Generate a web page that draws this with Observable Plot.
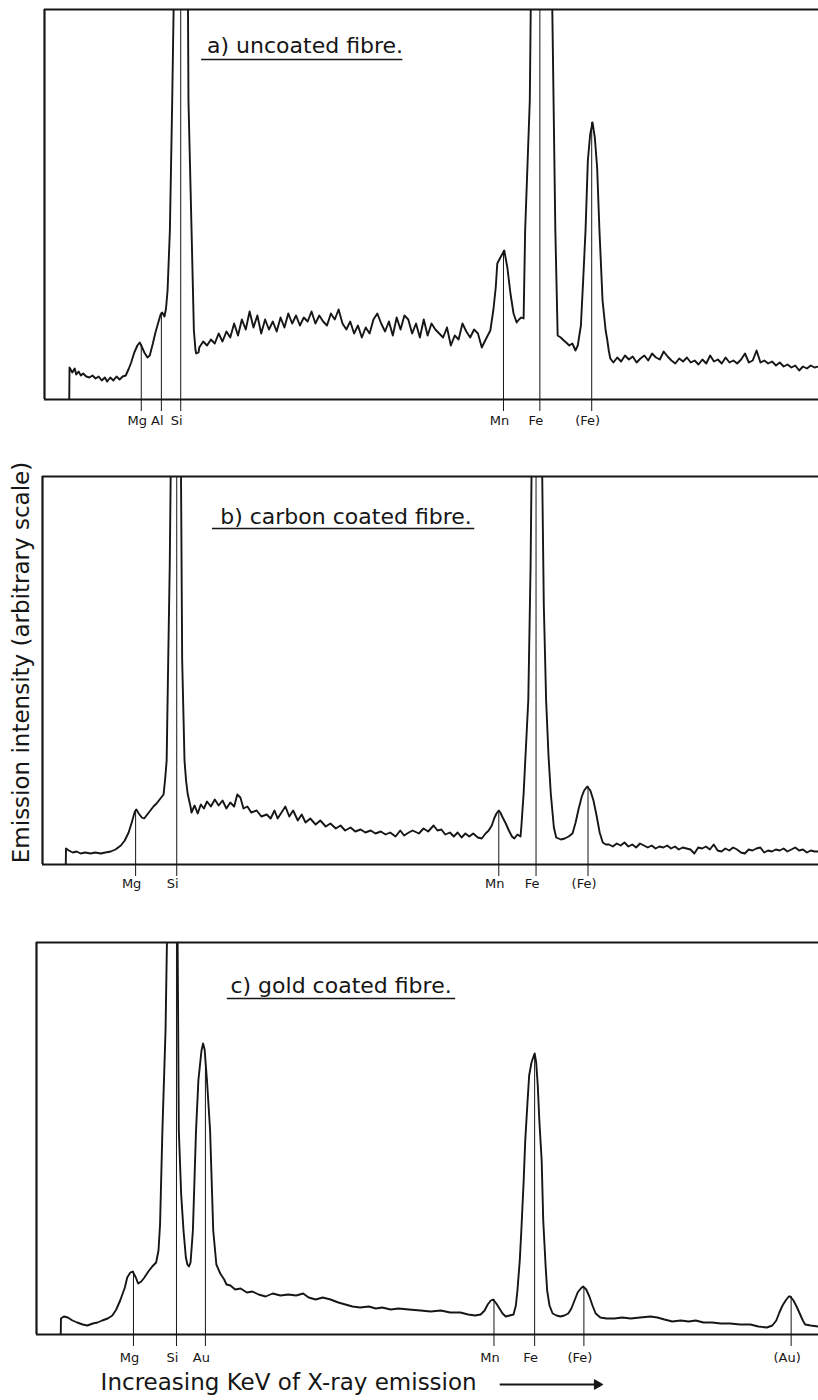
<!DOCTYPE html>
<html>
<head>
<meta charset="utf-8">
<script src="https://cdn.jsdelivr.net/npm/d3@7"></script>
<script src="https://cdn.jsdelivr.net/npm/@observablehq/plot@0.6"></script>
<style>
  html, body { margin: 0; padding: 0; background: #ffffff; }
  #wrap { position: relative; width: 818px; height: 1400px; overflow: hidden; background: #fff; }
  #wrap > div { position: absolute; left: 0; }
  svg { overflow: visible; }
</style>
</head>
<body>
<div id="wrap">
  <div id="pa" style="top:0px"></div>
  <div id="pb" style="top:450px"></div>
  <div id="pc" style="top:910px"></div>
</div>
<script>
// ---------- DATA (energy in keV, intensity in arbitrary units) ----------
// a) uncoated fibre
const spectrumA = [
  [0.32,0],[0.323,32],[0.36,27],[0.39,31],[0.41,25],[0.44,28],[0.47,24],[0.50,26],[0.54,23],[0.58,22],
  [0.62,24],[0.66,21],[0.70,23],[0.74,19],[0.78,22],[0.81,18],[0.85,22],[0.89,19],[0.93,23],[0.97,20],
  [1.01,23],[1.05,24],[1.09,31],[1.12,37],[1.16,47],[1.20,54],[1.23,57],[1.25,54],[1.29,47],[1.33,42],
  [1.36,44],[1.40,56],[1.43,66],[1.47,77],[1.50,85],[1.52,87],[1.55,83],[1.57,91],[1.59,109],[1.62,169],
  [1.65,299],[1.68,450],[1.85,450],[1.86,299],[1.90,169],[1.93,69],[1.95,50],[1.96,46],[1.99,47],
  [2.00,52],[2.05,58],[2.10,54],[2.15,60],[2.20,56],[2.25,66],[2.30,58],[2.35,68],[2.40,62],[2.45,76],
  [2.50,64],[2.55,80],[2.60,70],[2.65,88],[2.70,72],[2.75,84],[2.80,66],[2.85,80],[2.90,70],[2.95,78],
  [3.00,68],[3.05,82],[3.10,72],[3.15,86],[3.20,76],[3.25,84],[3.30,74],[3.35,82],[3.40,78],[3.45,88],
  [3.50,76],[3.55,84],[3.60,78],[3.65,74],[3.70,86],[3.75,80],[3.80,90],[3.85,76],[3.90,70],[3.95,78],
  [4.00,66],[4.05,74],[4.10,62],[4.15,72],[4.20,66],[4.25,80],[4.30,86],[4.35,76],[4.40,68],[4.45,78],
  [4.50,64],[4.55,82],[4.60,70],[4.65,84],[4.70,80],[4.75,66],[4.80,76],[4.85,62],[4.90,80],[4.95,64],
  [5.00,76],[5.05,70],[5.10,66],[5.15,62],[5.20,72],[5.25,54],[5.30,64],[5.35,60],[5.40,76],[5.45,68],
  [5.50,62],[5.55,70],[5.60,66],[5.65,52],[5.70,60],[5.76,69],[5.80,90],[5.83,112],[5.85,136],[5.89,142],
  [5.94,149],[5.98,132],[6.02,106],[6.06,86],[6.10,77],[6.13,80],[6.16,82],[6.19,81],[6.21,169],[6.27,299],
  [6.29,450],[6.55,450],[6.60,169],[6.63,64],[6.67,62],[6.71,59],[6.74,57],[6.78,54],[6.82,56],[6.86,49],
  [6.89,54],[6.93,74],[6.96,120],[6.99,169],[7.02,239],[7.05,265],[7.08,277],[7.11,262],[7.14,232],[7.17,169],
  [7.21,99],[7.25,69],[7.27,60],[7.29,49],[7.31,41],[7.35,37],[7.40,42],[7.45,38],[7.50,44],[7.55,40],
  [7.60,43],[7.65,37],[7.70,41],[7.75,44],[7.80,39],[7.85,46],[7.90,42],[7.95,40],[8.00,48],[8.05,43],
  [8.10,39],[8.15,36],[8.20,41],[8.25,38],[8.30,42],[8.35,37],[8.40,39],[8.45,35],[8.50,40],[8.55,36],
  [8.60,44],[8.65,38],[8.70,40],[8.75,36],[8.80,42],[8.85,37],[8.90,39],[8.95,36],[9.00,40],[9.05,46],
  [9.10,37],[9.15,39],[9.20,49],[9.25,37],[9.30,39],[9.35,36],[9.40,38],[9.45,34],[9.50,37],[9.55,33],
  [9.60,35],[9.65,32],[9.70,34],[9.75,29],[9.80,33],[9.85,31],[9.90,34],[9.95,32],[10.00,33]
];
const elementsA = ["Mg", "Al", "Si", "Mn", "Fe", "(Fe)"];
const energiesA = [1.25, 1.51, 1.76, 5.93, 6.40, 7.07];
const peakTopsA = [55, 87, 390, 149, 390, 277];

// b) carbon coated fibre
const spectrumB = [
  [0.30,0],[0.303,16],[0.34,14],[0.39,12],[0.44,13],[0.49,11],[0.55,12],[0.62,11],[0.68,12],[0.75,11],
  [0.81,12],[0.88,13],[0.94,15],[1.01,19],[1.06,24],[1.11,32],[1.15,42],[1.19,53],[1.21,55],[1.24,51],
  [1.28,47],[1.31,46],[1.35,50],[1.39,54],[1.43,58],[1.47,61],[1.51,65],[1.56,70],[1.58,85],[1.60,104],
  [1.62,204],[1.64,300],[1.66,450],[1.78,450],[1.80,204],[1.83,104],[1.85,84],[1.87,71],[1.91,57],[1.92,52],
  [1.96,59],[2.00,51],[2.04,60],[2.08,56],[2.12,63],[2.17,58],[2.22,65],[2.27,59],[2.32,64],[2.37,56],
  [2.42,62],[2.47,58],[2.51,70],[2.55,67],[2.59,56],[2.64,58],[2.69,52],[2.76,54],[2.82,48],[2.89,50],
  [2.94,46],[2.99,54],[3.03,46],[3.08,52],[3.13,58],[3.18,48],[3.23,54],[3.29,44],[3.34,50],[3.39,42],
  [3.45,46],[3.52,40],[3.58,44],[3.65,38],[3.71,41],[3.78,36],[3.84,39],[3.90,34],[3.97,37],[4.03,33],
  [4.10,35],[4.16,32],[4.23,34],[4.29,31],[4.36,33],[4.42,30],[4.48,32],[4.55,28],[4.61,34],[4.66,29],
  [4.72,32],[4.77,34],[4.85,31],[4.91,36],[4.97,33],[5.04,39],[5.09,34],[5.14,35],[5.19,30],[5.25,32],
  [5.30,28],[5.35,32],[5.40,27],[5.45,31],[5.50,28],[5.55,31],[5.61,27],[5.66,26],[5.71,31],[5.75,34],
  [5.79,39],[5.82,46],[5.85,51],[5.88,54],[5.90,52],[5.93,47],[5.97,41],[6.01,34],[6.05,28],[6.08,26],
  [6.12,30],[6.16,28],[6.17,37],[6.20,71],[6.26,164],[6.29,300],[6.31,450],[6.43,450],[6.46,260],[6.49,164],
  [6.52,110],[6.55,71],[6.59,37],[6.62,27],[6.68,25],[6.73,26],[6.78,28],[6.83,31],[6.87,42],[6.91,56],
  [6.95,68],[6.98,74],[7.02,78],[7.06,74],[7.10,64],[7.14,49],[7.18,32],[7.22,22],[7.26,20],[7.30,20],
  [7.35,18],[7.40,21],[7.45,19],[7.50,22],[7.55,18],[7.60,20],[7.65,17],[7.70,21],[7.75,19],[7.80,17],
  [7.85,19],[7.90,16],[7.95,18],[8.00,17],[8.05,19],[8.10,16],[8.15,18],[8.20,15],[8.25,17],[8.30,16],
  [8.35,15],[8.40,11],[8.45,17],[8.50,16],[8.55,18],[8.60,15],[8.65,20],[8.70,14],[8.75,13],[8.80,16],
  [8.85,14],[8.90,17],[8.95,15],[9.00,12],[9.05,11],[9.10,15],[9.15,14],[9.20,16],[9.25,17],[9.30,12],
  [9.35,14],[9.40,13],[9.45,15],[9.50,14],[9.55,16],[9.60,13],[9.65,15],[9.70,17],[9.75,14],[9.80,15],
  [9.85,12],[9.90,14],[9.95,13],[10.00,13]
];
const elementsB = ["Mg", "Si", "Mn", "Fe", "(Fe)"];
const energiesB = [1.20, 1.73, 5.88, 6.36, 7.03];
const peakTopsB = [55, 388, 54, 388, 78];

// c) gold coated fibre
const spectrumC = [
  [0.31,0],[0.313,16],[0.35,18],[0.40,17],[0.46,14],[0.52,12],[0.59,10],[0.65,9],[0.72,11],[0.78,12],
  [0.84,14],[0.91,16],[0.97,19],[1.02,25],[1.07,34],[1.13,47],[1.16,57],[1.20,62],[1.23,63],[1.27,57],
  [1.30,51],[1.34,53],[1.38,57],[1.43,63],[1.48,68],[1.53,72],[1.56,84],[1.58,110],[1.61,204],[1.65,304],
  [1.68,450],[1.80,450],[1.82,204],[1.85,140],[1.88,104],[1.91,77],[1.93,70],[1.95,68],[1.97,72],[2.00,104],
  [2.04,204],[2.07,254],[2.11,284],[2.13,291],[2.15,285],[2.18,254],[2.22,204],[2.26,104],[2.30,70],[2.35,61],
  [2.40,55],[2.43,50],[2.48,49],[2.54,45],[2.61,46],[2.69,42],[2.76,43],[2.84,40],[2.93,38],[3.02,41],
  [3.12,39],[3.22,40],[3.32,39],[3.41,41],[3.48,37],[3.57,35],[3.66,37],[3.76,35],[3.86,32],[3.95,30],
  [4.04,28],[4.14,27],[4.25,28],[4.34,26],[4.42,27],[4.53,25],[4.63,26],[4.76,25],[4.91,24],[5.04,23],
  [5.17,24],[5.29,22],[5.42,22],[5.52,20],[5.61,19],[5.68,20],[5.73,24],[5.77,30],[5.81,34],[5.84,35],
  [5.88,31],[5.92,26],[5.96,21],[6.00,18],[6.05,19],[6.10,20],[6.13,29],[6.15,44],[6.18,74],[6.20,104],
  [6.23,154],[6.25,194],[6.28,234],[6.30,259],[6.33,272],[6.36,279],[6.37,281],[6.39,272],[6.41,249],[6.43,214],
  [6.46,174],[6.48,114],[6.51,69],[6.53,44],[6.56,29],[6.60,21],[6.65,19],[6.70,18],[6.75,19],[6.80,21],
  [6.84,26],[6.88,34],[6.92,42],[6.96,46],[6.99,48],[7.03,45],[7.07,38],[7.11,29],[7.15,21],[7.21,17],
  [7.29,16],[7.39,16],[7.49,17],[7.60,16],[7.72,17],[7.85,18],[7.94,17],[8.03,15],[8.13,13],[8.24,14],
  [8.34,13],[8.43,14],[8.53,12],[8.64,12],[8.75,11],[8.87,11],[9.00,10],[9.13,10],[9.23,8],[9.34,7],
  [9.41,9],[9.46,14],[9.50,22],[9.54,29],[9.58,34],[9.62,38],[9.64,38],[9.68,34],[9.72,28],[9.76,21],
  [9.80,14],[9.83,10],[9.90,9],[10.00,8]
];
const elementsC = ["Mg", "Si", "Au", "Mn", "Fe", "(Fe)", "(Au)"];
const energiesC = [1.24, 1.79, 2.16, 5.85, 6.37, 7.00, 9.65];
const peakTopsC = [63, 392, 278, 35, 281, 47, 38];

const titles = ["a) uncoated fibre.", "b) carbon coated fibre.", "c) gold coated fibre."];
const yTitle = "Emission intensity (arbitrary scale)";
const xTitle = "Increasing KeV of X-ray emission";

// ---------- DRAWING ----------
const ink = "#161616";
const font = "DejaVu Sans";

function panel(o) {
  const lbl = o.names.map((n, i) => ({name: n, keV: o.energies[i], top: o.tops[i]}));
  const marks = [
    Plot.ruleY([0, o.H], {stroke: ink, strokeWidth: 2.2}),
    Plot.ruleX([0], {y1: () => 0, y2: () => o.H, stroke: ink, strokeWidth: 2.2}),
    Plot.line(o.spectrum, {x: d => d[0], y: d => d[1], clip: true, stroke: ink,
      strokeWidth: 1.9, strokeLinejoin: "round", strokeLinecap: "round"}),
    Plot.ruleX(lbl, {x: "keV", y1: () => -12, y2: "top", stroke: ink, strokeWidth: 1}),
    Plot.text(lbl, {x: "keV", y: () => o.labelY, text: "name", dx: -4, fontSize: 13, fill: ink}),
    Plot.text([o.title], {x: () => o.tx, y: () => o.ty, textAnchor: "start", lineAnchor: "bottom",
      fontSize: 22, fill: ink}),
    Plot.ruleY([o.uy], {x1: () => o.ux1, x2: () => o.ux2, stroke: ink, strokeWidth: 1.6})
  ];
  return Plot.plot({
    width: 818, height: o.height,
    marginLeft: o.left, marginRight: 0, marginTop: o.mt, marginBottom: o.mb,
    x: {domain: [0, 10], axis: null},
    y: {domain: [0, o.H], axis: null},
    style: {fontFamily: font, background: "transparent", color: ink, overflow: "visible"},
    marks: marks.concat(o.extra || [])
  });
}

document.getElementById("pa").append(panel({
  spectrum: spectrumA, names: elementsA, energies: energiesA, tops: peakTopsA,
  left: 44, height: 440, mt: 9, mb: 41, H: 390, labelY: -21,
  title: titles[0], tx: 2.10, ty: 347, ux1: 2.03, ux2: 4.63, uy: 340
}));

document.getElementById("pb").append(panel({
  spectrum: spectrumB, names: elementsB, energies: energiesB, tops: peakTopsB,
  left: 42, height: 460, mt: 26, mb: 46, H: 388, labelY: -19,
  title: titles[1], tx: 2.29, ty: 341, ux1: 2.19, ux2: 5.57, uy: 336,
  extra: [
    Plot.text([yTitle], {frameAnchor: "left", textAnchor: "middle", lineAnchor: "middle",
      dx: -21, dy: -8, rotate: -90, fontSize: 23, fill: ink})
  ]
}));

document.getElementById("pc").append(panel({
  spectrum: spectrumC, names: elementsC, energies: energiesC, tops: peakTopsC,
  left: 36, height: 490, mt: 32, mb: 66, H: 392, labelY: -23,
  title: titles[2], tx: 2.48, ty: 342, ux1: 2.44, ux2: 5.36, uy: 336,
  extra: [
    Plot.text([xTitle], {x: () => 0.82, y: () => -48, textAnchor: "start", fontSize: 23, fill: ink}),
    Plot.ruleY([-50], {x1: () => 5.93, x2: () => 7.14, stroke: ink, strokeWidth: 2}),
    Plot.dot([xTitle], {x: () => 7.17, y: () => -50, symbol: "triangle", rotate: 90, r: 3.6,
      fill: ink, stroke: ink, strokeWidth: 1})
  ]
}));
</script>
</body>
</html>
